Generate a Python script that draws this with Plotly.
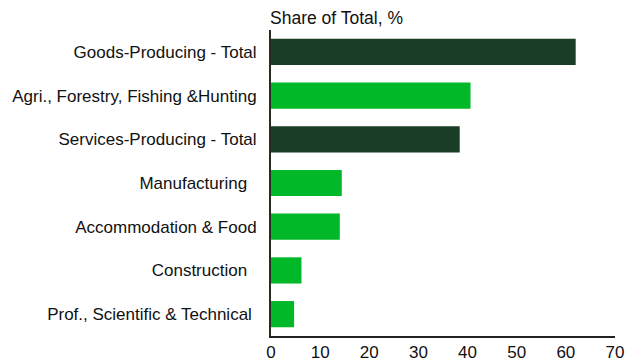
import plotly.graph_objects as go

categories = ["Goods-Producing - Total", "Agri., Forestry, Fishing &Hunting",
              "Services-Producing - Total", "Manufacturing  ", "Accommodation & Food",
              "Construction  ", "Prof., Scientific & Technical "]
values = [62.0, 40.6, 38.4, 14.4, 14.0, 6.2, 4.7]
is_total = [True, False, True, False, False, False, False]
tick_vals = [0, 10, 20, 30, 40, 50, 60, 70]

DARK = "#1A3D25"
BRIGHT = "#00B828"
colors = [DARK if t else BRIGHT for t in is_total]

fig = go.Figure(go.Bar(
    y=categories, x=values, orientation="h",
    marker=dict(color=colors, line=dict(width=0)),
    width=0.6,
))

fig.update_layout(
    width=626, height=362,
    margin=dict(l=271, r=11, t=30, b=26),
    paper_bgcolor="white", plot_bgcolor="white",
    font=dict(family="Liberation Sans, Arial", size=17, color="#111111"),
    showlegend=False,
    xaxis=dict(range=[0, 70], tickvals=tick_vals, showgrid=False, zeroline=False,
               showline=True, linecolor="#222222", linewidth=2, ticks="",
               ticklen=0, tickfont=dict(size=17), automargin=False,
               ticklabelstandoff=0),
    yaxis=dict(autorange="reversed", showgrid=False, zeroline=False,
               showline=True, linecolor="#2a2a1e", linewidth=2, ticks="",
               ticklabelstandoff=9, tickfont=dict(size=17), automargin=False),
    annotations=[dict(text="Share of Total, %", xref="paper", yref="paper",
                      x=0, y=1, xanchor="left", yanchor="bottom", xshift=-3,
                      showarrow=False, font=dict(size=17.5, color="#111111"))],
)

fig.write_html("out.html")
